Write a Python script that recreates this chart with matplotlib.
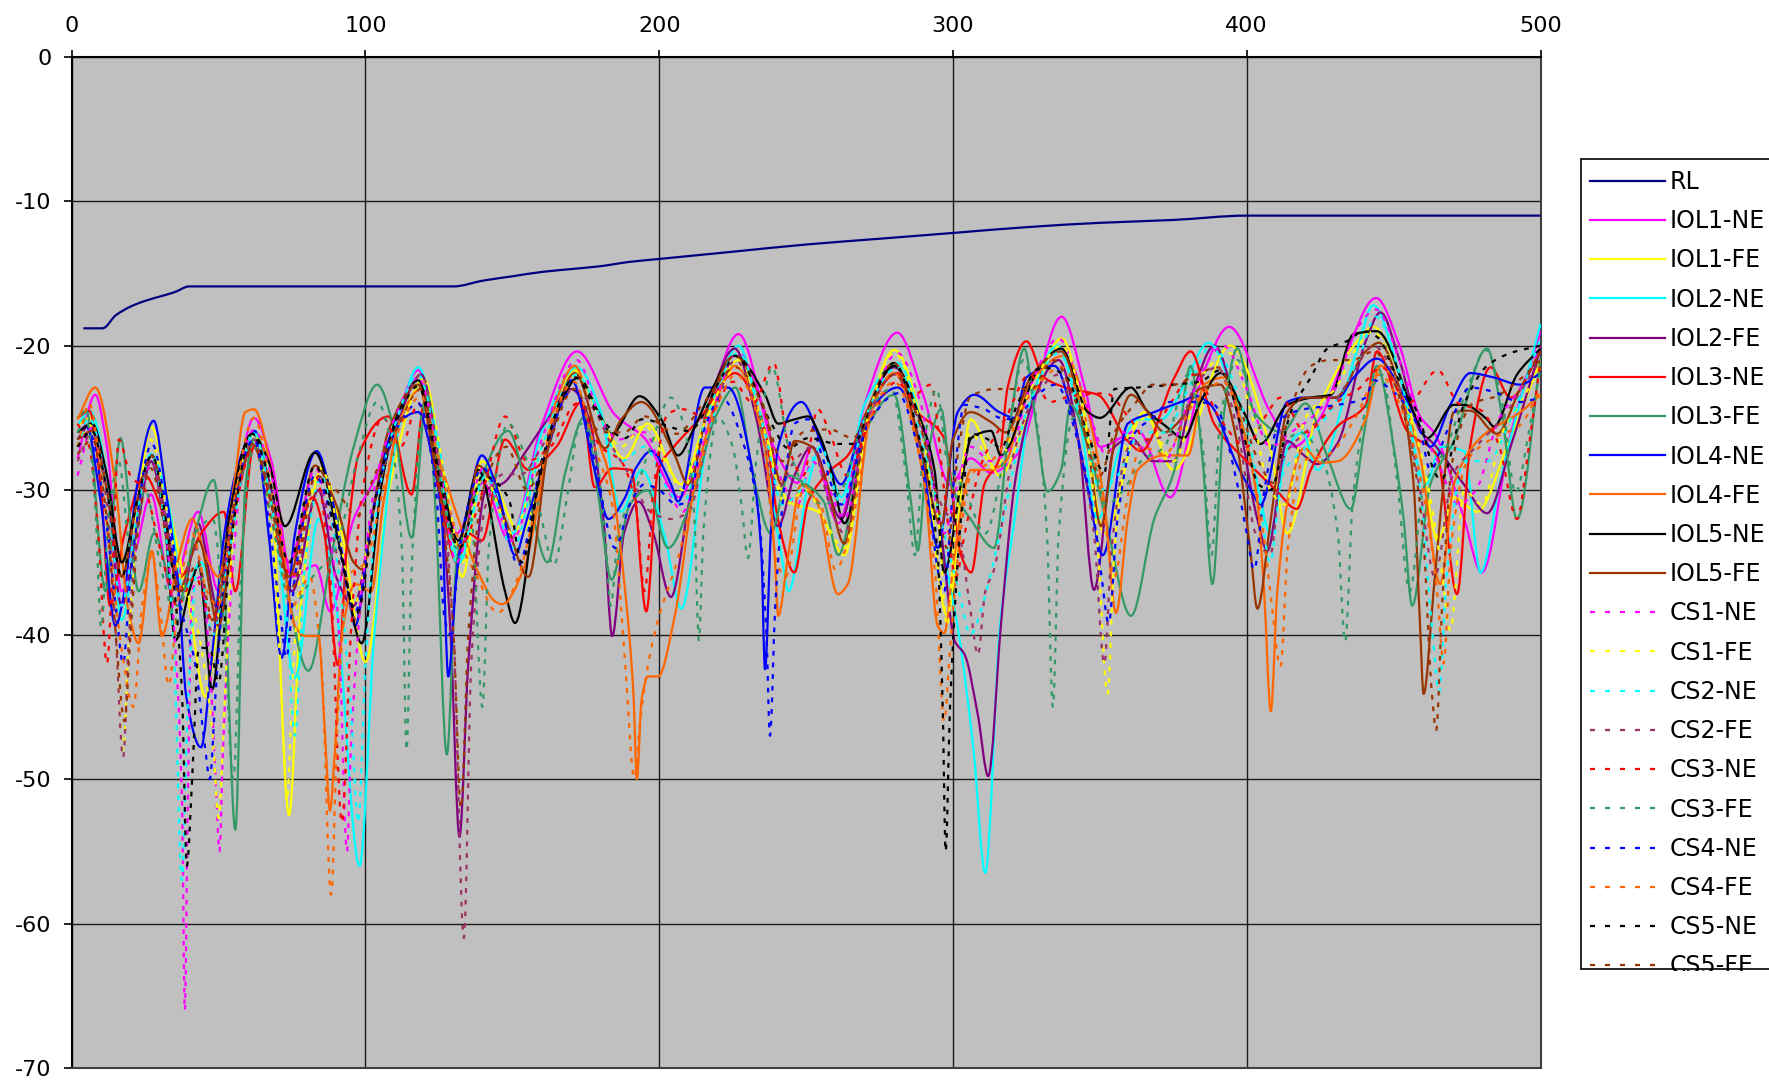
import numpy as np
import matplotlib
matplotlib.use("Agg")
import matplotlib.pyplot as plt
from matplotlib.path import Path
from matplotlib.patches import PathPatch, Rectangle
from matplotlib.lines import Line2D

plt.rcParams['font.family'] = ['DejaVu Sans']
plt.rcParams['lines.scale_dashes'] = False
plt.rcParams['axes.unicode_minus'] = False

# ---------------------------------------------------------------- data (x, dB)
RL = [(4, -18.8), (10.5, -18.8), (15, -17.9), (20, -17.3), (25, -16.9), (30, -16.6), (35, -16.3),
      (40, -15.9), (130, -15.9), (140, -15.5), (150, -15.2), (160, -14.9), (170, -14.7), (180, -14.5),
      (190, -14.2), (200, -14.0), (225, -13.5), (250, -13.0), (275, -12.6), (300, -12.2), (325, -11.8),
      (350, -11.5), (375, -11.3), (400, -11.0), (500, -11.0)]

IOL1_NE = [(2, -27.8), (8, -23.4), (12, -27), (17, -37), (22, -34), (27, -30.3), (34, -37), (43, -31.5),
           (50, -37), (56, -30), (62, -25), (68, -28), (75, -36), (83, -35.2), (88, -38.4), (96, -32),
           (103, -29.3), (110, -25.4), (118, -21.7), (124, -26), (131, -33), (140, -29.5), (149, -33.5),
           (160, -25.5), (172, -20.4), (185, -24.8), (195, -26.4), (207, -30.5), (216, -25), (227, -19.2),
           (239, -27), (247, -29.5), (252, -27), (261, -32.3), (270, -24), (281, -19.1), (290, -23.5),
           (299, -29.6), (306, -27.8), (313, -28.8), (322, -27.5), (337, -18), (345, -23), (350, -27),
           (363, -25.9), (374, -30.5), (385, -22), (394, -18.7), (408, -24.6), (416, -27), (425, -25),
           (433, -21), (444, -16.7), (452, -20), (459, -24.9), (464, -26.1), (474, -32), (480, -35.7),
           (490, -26), (500, -19)]

IOL1_FE = [(2, -25.5), (6, -25), (12, -29), (17, -39), (22, -32), (27, -25.6), (34, -32), (40, -38),
           (45.5, -44.3), (52, -35), (62, -26), (68, -30), (74, -52.5), (78, -38), (85, -28.5), (92, -33),
           (100, -41.9), (108, -30), (120, -22.3), (127, -30), (133, -36), (139.6, -28), (153, -33),
           (162, -27), (171, -21.7), (180, -25), (188, -27.8), (196, -25.4), (207.5, -29.6), (216, -25),
           (227, -21), (236, -26), (244, -30.8), (254, -31.5), (263, -34.5), (271, -25), (280, -20.3),
           (289, -25), (298, -38.7), (306, -25.1), (316, -29), (325, -25), (337, -19.5), (344, -24),
           (351.5, -33), (365, -24.6), (375, -28.6), (394.5, -20), (408, -27.1), (413.8, -33), (424, -24.6),
           (437.7, -19.7), (443, -18.7), (452, -22), (460, -28.6), (465, -33.5), (470.5, -30.5),
           (478.4, -31.5), (488.6, -27), (500, -21)]

IOL2_NE = [(2, -25.5), (6, -24.5), (12, -29), (17, -39), (22, -33), (27, -27.5), (33, -31), (38, -37),
           (44, -35), (50, -38), (56, -31), (62, -26), (68, -30), (76, -43), (84, -32), (90, -38), (98, -56),
           (103, -40), (110, -27), (118, -21.5), (125, -27), (132, -35), (141, -28.5), (150, -33), (160, -26),
           (172, -21.5), (180, -24.5), (187, -31.5), (194, -28.6), (202, -33.3), (207.5, -38.2), (216, -27),
           (227, -20), (234, -25), (241.6, -34.5), (244, -37), (250.7, -29.6), (255, -27), (262, -30.5),
           (270, -24), (281, -21.2), (290, -26), (297, -34.5), (302, -40), (307, -48), (311, -56.5),
           (316, -39.4), (321, -32), (326.6, -23.9), (335.6, -20), (343, -25), (349.3, -32), (357, -27),
           (363, -25.1), (371, -25.1), (378, -23), (387, -19.8), (395, -23), (403.6, -29.6), (408, -33),
           (413.8, -27.1), (419, -26), (424, -28.6), (437.7, -20.2), (443, -17.2), (452, -22), (461, -29.6),
           (466, -27), (474, -27.3), (479.6, -35.7), (486, -29.6), (500, -18.5)]

IOL2_FE = [(2, -26.5), (6, -25.5), (12, -30), (17, -38), (22, -33), (27, -28), (34, -35), (38, -37),
           (43, -32.3), (50, -38.4), (56, -31), (62, -26.5), (68, -30), (75, -37), (84, -30), (90, -36),
           (96, -38), (103, -31), (110, -26), (119, -22), (125, -29), (129, -40), (132, -54), (135, -42),
           (141, -30), (147, -29.5), (154, -27.5), (162, -25.1), (170, -23), (176, -25), (181, -32),
           (184, -40.1), (188, -33), (193, -30.8), (198, -33), (204, -37.4), (210, -31), (217, -24),
           (225.7, -20.2), (233, -25), (240.5, -32.5), (246, -29), (252, -27), (262, -32), (270, -25),
           (280, -21.5), (290, -26), (296, -33), (300.5, -40.4), (304, -41.4), (308.5, -45.6), (312, -49.8),
           (316.3, -39.4), (321, -29.6), (327, -24), (336, -21), (343, -27), (348, -36.9), (355, -27),
           (360.6, -26.4), (368, -28), (375, -28), (382, -23), (389, -20), (396, -24), (403.6, -32),
           (407, -34.2), (413.8, -26.6), (419.5, -27.6), (424, -28.2), (430.8, -26.8), (440.5, -19.7),
           (445.5, -17.7), (452, -21), (459, -25.9), (463.6, -26.8), (473.9, -29.6), (481.8, -31.6),
           (489.8, -27), (500, -20.2)]

IOL3_NE = [(2, -25), (6, -24.5), (10, -30), (13, -38), (18, -33), (25, -29), (30, -31), (37, -36), (44, -33),
           (51.8, -31.5), (55.7, -37), (62, -27), (68, -31), (74, -35), (82, -30.5), (86, -33), (90.6, -42.1),
           (94, -33), (97.6, -27.6), (107.8, -24.9), (115.7, -30.3), (120, -24), (126, -31), (131, -35),
           (135, -33), (139.6, -33.5), (147.5, -26.5), (155.5, -28.6), (165, -27), (173.6, -23.9),
           (178, -29.8), (184, -28.5), (190.5, -28.6), (195.6, -38.4), (199.6, -28.6), (205, -27), (214, -25),
           (225.7, -21.9), (236, -25.9), (240.4, -32), (246, -35.7), (250.7, -30.8), (258.5, -28.6),
           (264.2, -27.6), (272, -24), (281, -21.9), (287, -24.4), (297, -26.4), (302.7, -34.5),
           (306.2, -35.7), (310.7, -29.6), (315.8, -27.8), (318.6, -22.9), (325, -19.7), (331, -22.2),
           (340, -23), (349.3, -23.4), (359.5, -26.6), (364, -27.3), (375.4, -22.2), (380.9, -20.4),
           (388.9, -25.4), (400, -28), (410, -30), (417, -31.3), (421.8, -28.6), (430.8, -25.6),
           (440.5, -24.1), (444.3, -20.4), (454.6, -25.9), (464.8, -27.6), (471.6, -37.2), (476, -27),
           (483, -21.5), (489.8, -23.6), (500, -20.4)]

IOL3_FE = [(2, -25), (5, -24.5), (11.5, -37), (16.6, -26.4), (22.8, -37), (28, -33), (36, -38), (42, -33),
           (48.3, -29.3), (52, -37), (55.7, -53.5), (59, -30), (62, -26.5), (70, -33), (80.6, -42.5), (88, -35),
           (96, -27), (104, -22.7), (110, -26), (115.7, -33.3), (121, -23.2), (124, -32), (127.7, -48.3),
           (131, -35), (138, -30), (148.6, -25.9), (155, -30), (162, -35), (168, -28.8), (174.7, -24.9),
           (179, -30), (183.8, -36.2), (190, -31), (196, -30), (203, -34), (212, -30), (219, -25),
           (226, -22.9), (232, -29), (238, -33), (244, -29), (250, -29.6), (256, -30.8), (261, -34.5),
           (270, -26), (280, -23.4), (285.7, -30.8), (288, -34.2), (291, -28), (296, -24.4), (299.4, -29.6),
           (306, -32), (314, -34), (319, -26), (324.3, -20.2), (328, -25), (332.2, -30.1), (336.8, -28.6),
           (340, -24.1), (346, -27), (352, -32), (360.6, -38.7), (368.5, -32), (375.4, -28.6), (380.9, -21.4),
           (385, -28), (388.3, -36.5), (392.3, -24.6), (396.8, -20.2), (402.5, -24.6), (412, -26), (420, -24),
           (428, -28), (435.4, -31.3), (440, -26), (444.3, -21.4), (450, -27), (453.4, -32), (456.3, -38),
           (462.5, -29.6), (470.5, -26.6), (481.8, -20.2), (487, -25), (492, -32), (500, -20.9)]

IOL4_NE = [(2, -26), (5, -25.6), (10, -31), (14.9, -39.4), (18, -37), (22, -30), (27.9, -25.2), (32, -30),
           (36.4, -37), (39, -44.3), (44, -47.8), (47.8, -41.4), (52, -33), (57, -28), (62.4, -25.9), (67, -33),
           (71.5, -41.6), (76, -33), (83.4, -27.3), (88, -30), (94.2, -37), (96.5, -39.4), (102, -32),
           (110, -25.6), (118, -24.6), (123, -28), (126, -32), (128.2, -42.9), (131, -36), (135, -31),
           (139.6, -27.6), (145, -30), (150.9, -34.5), (155, -32), (162.3, -27), (170.2, -22.4), (178, -28.6),
           (182.7, -32), (188.4, -30.5), (192, -28.5), (197.3, -27.3), (204, -29.6), (206.4, -30.8),
           (215.5, -22.9), (223.4, -22.9), (232.5, -29.6), (234.8, -34.5), (236, -42.4), (238, -33),
           (240.5, -27), (248.4, -23.9), (256.2, -27.3), (261.9, -29.6), (270, -25), (281.2, -22.9),
           (289.1, -27.1), (292.5, -32), (294.8, -34), (301.6, -24.6), (307.3, -23.4), (315.8, -24.6),
           (321, -25), (325, -22.2), (334.5, -21.4), (341, -25), (346, -30), (351, -34.5), (359.5, -25.4),
           (368.5, -24.6), (377.6, -23.9), (383, -23.5), (387.7, -24.1), (396.8, -28.3), (401.4, -30),
           (404.7, -31), (413.8, -23.9), (419, -23.6), (431, -23.6), (436.4, -22.2), (444.3, -20.9),
           (453.4, -23.4), (459, -25.6), (462.5, -27), (469.3, -24.1), (476.1, -21.9), (484, -22.2),
           (493.1, -22.7), (500, -21.9)]

IOL4_FE = [(2, -25.1), (8, -22.9), (14.9, -29.6), (19, -38), (22.8, -40.6), (27.3, -34.2), (30.7, -40.1),
           (36, -35), (41, -32), (45.5, -34.5), (50, -36), (55, -30), (59.1, -24.6), (62, -24.4), (69.2, -30),
           (76, -39.4), (79.4, -40.1), (84, -40.1), (86.2, -46.8), (87.9, -52.2), (89.6, -48), (92, -40),
           (96.5, -36.5), (102, -37), (106, -31), (112, -25), (119, -23), (124, -27), (131.6, -32),
           (138.4, -35.7), (144.1, -37.7), (146.4, -37.9), (154.3, -35.2), (158.9, -30.8), (164.5, -24.1),
           (171.3, -21.4), (178.1, -25.9), (183.8, -29.6), (188.4, -37), (191.2, -44), (192.4, -50),
           (194, -44.5), (196.2, -42.9), (199.6, -42.9), (205.3, -38.7), (212.1, -29.6), (221.2, -22.9),
           (225.7, -21.4), (236, -27), (239.3, -34.5), (240.5, -38.7), (243.9, -34.5), (248.4, -29.6),
           (254, -31), (260.8, -37.2), (264.2, -36.5), (272, -24.6), (280, -21.9), (290.3, -29.6),
           (294.8, -39.4), (297, -39.9), (300.5, -34.5), (306.2, -28.6), (313, -28.6), (318, -28),
           (325.4, -22.9), (337.9, -20.7), (345.9, -24.6), (351.5, -30.8), (355.5, -38.5), (359.5, -32),
           (362.9, -28.6), (372, -27.6), (380, -27.6), (385.5, -22.7), (392.3, -22.2), (399, -25.9),
           (403.6, -30.8), (405.9, -37), (408.2, -45.3), (410.4, -37), (415, -29.6), (419.5, -27.1),
           (425.2, -28.1), (431, -28), (440.5, -25.1), (445.5, -21.4), (454.6, -24.6), (459, -27.6),
           (465.9, -36.5), (470.5, -29.6), (479.5, -26.4), (493.1, -24.6), (500, -23.4)]

IOL5_NE = [(2, -26), (6.9, -25.4), (12, -29), (17.1, -35), (22, -31), (27.3, -27.6), (32, -33), (35.3, -40.4),
           (40, -37), (43.3, -35.2), (47.8, -43.8), (53.5, -32), (61.4, -26.1), (67, -28), (72.6, -32.5),
           (82.8, -27.4), (91.9, -34.5), (98.7, -40.6), (105.5, -29.6), (111.2, -24.6), (118, -22.4),
           (125, -28.3), (131.6, -33.5), (138.4, -28.6), (147.5, -37), (150.9, -39.2), (158.9, -29.6),
           (164.5, -25.1), (172.5, -22.2), (179.3, -24.6), (183.8, -26.1), (193.3, -23.5), (200.7, -25.1),
           (206.4, -27.6), (212.1, -25.6), (218, -23), (225.7, -20.7), (236, -23.4), (240.5, -25.4),
           (246.1, -25.1), (250.7, -24.9), (255, -26.4), (258.5, -28.6), (263, -32.3), (272, -24.1),
           (280, -21.4), (288, -24.6), (293.7, -28.6), (297, -35.7), (302.7, -29.6), (306.2, -26.4),
           (313, -25.9), (316.3, -27.6), (328.8, -21.7), (336.8, -20.2), (345.9, -24.6), (350, -25),
           (360.6, -22.9), (366, -24.5), (372, -25.5), (378.6, -26.4), (384, -24), (391.1, -21.9),
           (399, -24.6), (404.7, -26.8), (413.8, -24.1), (421.8, -23.6), (428.6, -23.4), (436.4, -19.2),
           (444.3, -19), (456.8, -24.6), (461.4, -26.4), (470.5, -24.1), (473.9, -24.1), (481.8, -25.1),
           (484.1, -25.6), (492, -22), (500, -20.2)]

IOL5_FE = [(2, -26.5), (6.9, -25.9), (12, -30), (17.1, -36), (22, -31), (27.3, -27.6), (32, -32), (36.4, -37),
           (43.3, -33.5), (50, -39.4), (56, -31), (61.4, -26.8), (67, -30), (74, -36), (82.8, -28.3), (90, -31),
           (96, -35), (99, -35.5), (103, -31), (107.8, -25.9), (118, -22.7), (123.7, -28.3), (129, -33),
           (133, -34), (138.4, -28.3), (147.5, -32), (155.5, -36), (162.3, -27), (171.3, -21.9),
           (181.5, -27.1), (187.1, -25.1), (193.9, -23.9), (205.3, -27.6), (209.8, -29.6), (217, -24),
           (225.7, -20.7), (236, -24.6), (241.6, -29.6), (246.1, -26.6), (252, -27), (257, -29.5),
           (263, -33.7), (271, -24.5), (280, -21.2), (289.1, -27.1), (296, -32.5), (300, -26.5), (306, -24.6),
           (313, -25.3), (318, -26), (327, -22), (336.8, -20.4), (345.9, -27), (350.4, -32.5), (355, -26.6),
           (360.6, -23.4), (366.3, -24.6), (372, -26), (378, -25), (384, -23), (391.1, -22.7), (396, -26),
           (401.4, -34.5), (403.6, -38.2), (408.2, -32), (413.8, -24.6), (420, -23.6), (430, -23.6),
           (440.5, -20.4), (445, -19.8), (452, -23), (456.8, -29.6), (459, -39.4), (460.2, -44.1),
           (463.6, -37), (467, -29.6), (470.5, -24.6), (476, -24.5), (485.2, -26.1), (493, -23), (500, -20.4)]

CS1_NE = [(2, -29), (7, -25.6), (12, -30), (17, -38), (22, -32), (27.3, -28.1), (32, -33), (35, -40),
          (37.6, -52), (38.5, -66), (39.5, -52), (41, -37), (44, -36), (47, -42), (49, -50), (50.3, -55),
          (51.5, -48), (53.5, -39.4), (59.1, -27.1), (62, -25.8), (68, -29), (74, -35), (83, -28.5), (88, -33),
          (91, -40), (93.7, -55), (95, -48), (98.7, -37), (103.3, -29.6), (110, -25), (118, -22.2), (125, -28),
          (131, -35), (140, -28.5), (150, -33.5), (160, -26.5), (172, -21), (180, -25), (186, -26.5),
          (195, -26), (203, -30), (208, -31.5), (216, -26), (227, -20.5), (235, -24), (241, -29), (247, -31),
          (252, -28), (258, -30), (263, -32), (270, -26), (281, -20.5), (289, -24), (297, -33), (301, -30),
          (306, -27), (313, -28), (320, -27), (326, -23), (336, -19.5), (342, -22), (347, -25), (352, -27.5),
          (358, -26), (364, -27), (372, -28), (380, -24), (392, -20), (400, -23), (408, -27), (415, -26),
          (422, -25), (430, -23), (437, -19), (444, -17.5), (452, -21), (460, -26), (465, -28), (472, -31),
          (478, -30), (486, -25), (493, -23), (500, -20)]

CS1_FE = [(2, -27), (6, -25.5), (12, -31), (15, -40), (17.5, -48), (19.5, -40), (23, -31), (27, -26.5),
          (32, -31), (37, -36), (41, -38), (45, -42), (48, -47), (50, -52.7), (52, -45), (55, -33), (62, -26),
          (67, -31), (71, -42), (73.2, -51.5), (75.5, -42), (79, -33), (85, -28.5), (91, -33), (96, -38),
          (103, -31), (110, -26), (120, -22.5), (127, -29), (133, -35), (140, -29), (150, -33), (160, -27),
          (172, -22), (180, -25), (187, -27), (195, -25.5), (202, -28), (208, -30), (216, -25), (227, -21.5),
          (236, -26), (243, -31), (250, -30), (256, -32), (263, -34), (271, -25), (280, -20.5), (289, -25.5),
          (295, -32), (298, -39.4), (301, -32), (306, -26), (314, -28.5), (324, -24), (337, -20), (344, -24),
          (349, -33), (352.6, -44.1), (355, -34), (360, -26), (366, -25), (375, -28), (385, -22),
          (394, -20.5), (402, -25), (408, -30), (413, -31), (420, -25), (430, -23), (438, -20), (443, -19),
          (452, -23), (460, -28), (466, -35), (469.3, -39.7), (474, -30), (480, -31), (487, -26), (493, -24),
          (500, -21.5)]

CS2_NE = [(2, -27), (6, -25), (12, -30), (17, -38), (22, -32), (27, -27.5), (32, -33), (35, -42),
          (37.5, -57), (39.5, -45), (43, -35), (48, -40), (53, -35), (62, -26), (68, -31), (73, -38), (76, -47),
          (79, -36), (85, -29), (91, -36), (95, -45), (97.5, -53), (100, -42), (104, -31), (110, -25.5),
          (118, -22), (125, -28), (131, -35), (141, -29), (150, -34), (160, -27), (172, -22), (180, -25),
          (187, -28), (195, -27), (203, -30), (208, -31), (216, -25), (227, -20.5), (236, -26), (242, -31),
          (248, -30), (255, -27), (262, -31), (270, -25), (281, -21.5), (290, -27), (297, -33), (302, -37),
          (306, -40), (310, -38), (316, -33), (326, -24), (336, -20.5), (344, -25), (350, -30), (356, -29),
          (364, -26), (372, -26), (380, -23), (388, -20), (398, -24), (404, -30), (408, -35), (412, -29),
          (420, -27), (430, -24), (438, -21), (444, -18), (452, -22), (459, -30), (463, -39.4), (465.5, -44),
          (468, -36), (474, -28), (482, -28), (490, -25), (500, -19.5)]

CS2_FE = [(2, -28), (7, -26), (12, -31), (15, -40), (17.5, -48.5), (19.5, -40), (23, -31), (27, -28),
          (32, -32), (37, -37), (42, -34), (48, -40), (53, -34), (62, -26.5), (68, -31), (74, -37), (84, -30),
          (91, -35), (97, -39), (103, -31), (110, -26), (119, -22), (125, -28), (130, -40), (133.5, -61),
          (136, -42), (141, -31), (147, -28.9), (153, -28.9), (160, -27), (171, -23), (178, -24.5), (184, -27),
          (190, -29), (197, -31.5), (204, -32), (210, -31.5), (217, -26), (226, -21), (234, -25), (240, -30),
          (246, -28), (252, -27), (258, -31), (263, -33), (271, -25), (280, -22), (288, -25), (296, -31),
          (302, -33), (306, -38.4), (308.5, -41.4), (311, -37), (314, -35.5), (320, -28), (328, -23.5),
          (336, -22), (343, -27), (348, -33), (351.5, -42), (354, -34), (360, -27), (368, -26.5), (376, -26),
          (383, -22.5), (390, -21.5), (397, -26), (403, -33), (408, -34.5), (412, -28), (420, -26),
          (428, -24.5), (436, -22), (443, -20), (452, -23), (459, -30), (464, -36), (470, -29), (478, -27),
          (487, -25), (500, -21)]

CS3_NE = [(2, -25.4), (6, -27), (9, -33), (12, -42), (14, -35), (16, -26.5), (20, -29), (25, -30), (30, -34),
          (36, -38), (42, -36), (48, -39), (53, -34), (62, -27), (68, -32), (75, -36), (83, -29), (88, -36),
          (92, -53), (95, -40), (99, -30), (106, -25), (112, -27), (118, -24), (125, -30), (132, -34),
          (140, -30), (147.5, -24.9), (155, -28), (163, -27), (172, -24), (180, -27), (187, -28), (192, -31),
          (195, -37), (198, -30), (203, -24.7), (208, -24.4), (216, -25), (225, -22.5), (232, -24),
          (239, -21.2), (244, -27), (249, -29), (254, -24.4), (258, -26), (264, -29), (272, -25),
          (281, -22.5), (286, -23.5), (292.5, -22.7), (297, -30), (301, -36), (304, -33), (310, -28),
          (318, -25), (326, -22), (333, -23.9), (340, -23.5), (352, -23.3), (360, -25), (366, -26.5),
          (374, -24), (382, -22), (391, -25.1), (400, -27), (406, -25), (411.5, -23.6), (420, -26), (430, -24),
          (438, -23), (446, -21.5), (455, -24), (465, -21.7), (472, -24), (480, -24.5), (486, -27), (492, -32),
          (496, -27), (500, -21)]

CS3_FE = [(2, -26), (5, -25), (8, -31), (10, -39.5), (12.5, -32), (16, -28), (20, -34), (25, -30), (30, -35),
          (36, -39), (42, -33), (48, -32), (52, -40), (55, -50), (58, -34), (62, -27), (68, -32), (75, -38),
          (82, -36), (90, -34), (97, -28), (104, -23.9), (109, -27), (112.4, -34), (114, -48), (115.6, -36),
          (120, -24), (126, -30), (131, -34), (136, -32), (139.8, -45), (142, -34), (148.6, -25.4), (155, -28),
          (160, -32), (164, -35.2), (169, -30), (173, -25.4), (178, -27), (181.6, -33), (183.5, -38),
          (186, -33), (192, -30), (197, -27), (204, -23.6), (209, -26), (212, -32), (213.5, -40.4),
          (215, -33), (220, -25), (225, -27), (228, -31), (230.2, -34.7), (233, -28), (238.5, -21.5),
          (244, -27), (250, -30), (256, -31), (262, -30), (270, -25), (279, -23), (284, -29), (287, -34.5),
          (290, -27), (294.5, -23), (298, -28), (304, -30), (311, -33), (318, -27), (324, -21), (329, -26),
          (332, -33), (334, -45), (336, -33), (341, -25), (347, -27), (352, -31), (358, -30), (364, -28),
          (372, -27), (380, -22), (385, -27), (388, -34.5), (391, -25), (397, -21), (403, -25), (410, -27),
          (418, -26), (426, -28), (431, -33), (433.5, -40.5), (436, -31), (441, -24), (446, -22), (451, -29),
          (455.5, -37), (460, -30), (468, -27), (475, -23), (481.5, -20.3), (487, -24), (491.5, -30.2),
          (496, -26), (500, -21.5)]

CS4_NE = [(2, -27), (6, -26), (11, -31), (15, -38), (17.5, -42), (20, -36), (27.3, -26.8), (32, -31), (37, -38),
          (42, -42), (45.5, -48), (47, -50), (49, -44), (53, -34), (62, -26.5), (67, -32), (71.5, -39.4),
          (73, -41.6), (76, -36), (82.8, -29), (90, -33), (96.5, -38.4), (103, -31), (110, -26), (118, -24),
          (124, -30), (127, -39), (129, -40), (132, -34), (140, -28.5), (146, -31), (152, -35.2), (160, -28),
          (171, -23), (178, -28), (185, -34), (190, -31), (195, -29.6), (200, -30), (206, -31), (210, -30.8),
          (215, -26), (221.2, -23.6), (229, -27), (234, -32), (236.5, -40), (237.7, -47), (239.5, -38),
          (243, -29), (246, -25.4), (250.7, -25.1), (256, -28), (262, -31), (271, -25.5), (281.2, -23.3),
          (288, -27), (292.5, -32), (295, -35.7), (297, -37), (300, -30), (303.9, -24.1), (310.7, -24.4),
          (316, -25), (320.9, -25.1), (328, -23.5), (335, -22.7), (343, -27), (348, -32), (350.4, -35.7),
          (353, -39.2), (356, -32), (362, -26), (368, -25), (374, -23.9), (383, -23.9), (388.9, -24.1),
          (396.8, -29.6), (400, -33), (402.5, -35.5), (406, -30), (411.5, -25.1), (419.5, -24.4),
          (430.8, -24.1), (440.5, -23.6), (443.2, -22.4), (450, -23.2), (459, -25.9), (462.5, -28.6),
          (468, -26), (476.1, -22.9), (484.1, -23.2), (493.1, -23.9), (500, -23.6)]

CS4_FE = [(2, -27), (6, -24), (10, -29), (14, -36), (17, -41), (21, -45), (24, -38), (27.3, -34.5), (30, -38),
          (33, -43.5), (36, -38), (41, -33), (46, -37), (50, -38), (55, -31), (62, -25), (68, -30), (75, -38),
          (81, -36), (85, -42), (88.3, -58), (90.5, -46), (94, -36), (100, -35), (106, -30), (112, -25.5),
          (119, -23.5), (125, -28), (131, -33), (138, -36), (145, -38.5), (152, -36), (158, -31), (164, -25),
          (171, -22.5), (178, -27), (184, -31), (188.4, -42), (191.5, -49.9), (193.5, -46), (196, -42.3),
          (200, -38.7), (206, -35), (212, -30), (220, -24), (226, -22), (235, -26), (240, -35), (243, -36),
          (249, -30), (255, -31), (260, -35.5), (265, -33), (272, -25), (280, -22.5), (289, -28), (294, -36),
          (297, -46), (299, -41), (302, -34), (306, -29), (313, -28), (320, -26), (326, -23.5), (337, -21.5),
          (345, -25), (351, -31), (355, -36), (359, -31), (364, -27), (372, -27.5), (382, -24), (392, -22.5),
          (400, -27), (405, -32), (408, -37), (411.5, -42.2), (414, -34), (419, -28), (428, -27.5), (437, -25),
          (445, -22), (454, -25), (459, -29), (464.8, -37), (467, -42), (469.5, -34), (475, -28),
          (483, -26.5), (493, -25.5), (500, -23)]

CS5_NE = [(2, -27), (6.9, -25.9), (12, -30), (17, -36), (22, -31), (27.3, -27.6), (32, -32), (35.5, -38),
          (37.6, -44.3), (39.2, -56), (41, -50), (43.3, -40.9), (47, -41), (50, -43.3), (54, -34),
          (61.4, -26.1), (67, -29), (74, -35), (82.8, -28.3), (90, -33), (97, -38.5), (104, -30), (111, -25),
          (118, -22.8), (125, -29), (132, -34), (140, -29), (148.6, -30.5), (153.2, -35), (160, -28),
          (171.3, -22.2), (180, -25), (188.4, -26.4), (194, -25.1), (210, -25.9), (221.2, -22.2),
          (225.7, -20.7), (238.2, -25.4), (243.9, -27.1), (250.7, -26.4), (261, -26.8), (266.4, -26.8),
          (272, -24), (280, -21.2), (288, -26), (294.8, -34.5), (296.5, -45), (297.5, -55), (299, -45),
          (302.7, -32), (306.2, -26.1), (313, -26.6), (316.3, -27.1), (322, -24), (330, -21.5), (337.9, -22),
          (345.9, -26.1), (351.5, -28.8), (355, -23), (363, -22.9), (375, -22.7), (384, -22.5), (391, -21.7),
          (400, -27), (404, -29.6), (408, -30), (415, -24.6), (421.8, -22.2), (427.5, -20.2), (434, -19.7),
          (440, -19), (445, -19.5), (450, -21.7), (459, -25.1), (463.6, -28.6), (466, -29.3), (473.9, -24.1),
          (481.8, -21.4), (490, -20.5), (500, -20)]

CS5_FE = [(2, -27.5), (7, -26.5), (12, -32), (15, -40), (18, -46), (20, -40), (23, -32), (27, -28.5), (32, -33),
          (37, -37), (43, -35), (48, -39), (53, -33), (62, -27), (68, -31), (75, -37), (83, -29), (90, -30),
          (97, -31.8), (103, -29), (110, -26), (119, -23), (125, -30), (130, -40), (132.5, -52), (135, -40),
          (140, -30), (148, -27), (155, -30), (162, -27), (171, -23), (180, -26), (188, -26), (195, -24.9),
          (206, -26.1), (215, -24), (226, -21.5), (235, -24), (242, -28), (249, -26), (258, -25.8),
          (266, -26.4), (272, -24), (280, -22), (288, -25), (294, -30), (298, -34), (302, -27), (306, -23.5),
          (315, -23), (326.6, -23), (334, -21), (342, -24), (350, -29), (355, -26), (362, -24), (368, -22.7),
          (375, -22.7), (383, -22), (390, -21.5), (397, -24), (404, -28), (409, -29.5), (414, -25),
          (421.8, -21.4), (428, -21), (436, -21), (443.2, -20.4), (450, -22.5), (456, -27), (460, -33),
          (463, -44), (464.5, -46.6), (466.5, -38), (470, -28), (477, -24), (485, -23.5), (492, -22.5),
          (500, -21)]

LABELS = ["RL", "IOL1-NE", "IOL1-FE", "IOL2-NE", "IOL2-FE", "IOL3-NE", "IOL3-FE", "IOL4-NE", "IOL4-FE",
          "IOL5-NE", "IOL5-FE", "CS1-NE", "CS1-FE", "CS2-NE", "CS2-FE", "CS3-NE", "CS3-FE", "CS4-NE",
          "CS4-FE", "CS5-NE", "CS5-FE"]
VALUES = [RL, IOL1_NE, IOL1_FE, IOL2_NE, IOL2_FE, IOL3_NE, IOL3_FE, IOL4_NE, IOL4_FE, IOL5_NE, IOL5_FE,
          CS1_NE, CS1_FE, CS2_NE, CS2_FE, CS3_NE, CS3_FE, CS4_NE, CS4_FE, CS5_NE, CS5_FE]

# ---------------------------------------------------------------- styles
PALETTE = ["#000080", "#FF00FF", "#FFFF00", "#00FFFF", "#800080", "#FF0000", "#339966", "#0000FF",
           "#FF6600", "#000000", "#993300",
           "#FF00FF", "#FFFF00", "#00FFFF", "#993366", "#FF0000", "#339966", "#0000FF", "#FF6600",
           "#000000", "#993300"]
DOTTED = [False] * 11 + [True] * 10
LW = 1.6
DOT_PLOT = (0, (3.4, 5.0))
DOT_LEGEND = (0, (3.6, 7.2))


def smooth_path(points):
    """Bezier path through the points with shape-preserving (monotone) tangents."""
    pts = np.asarray(points, dtype=float)
    x, y = pts[:, 0], pts[:, 1]
    h = np.diff(x)
    d = np.diff(y) / h
    m = np.zeros_like(y)
    m[0], m[-1] = d[0], d[-1]
    for k in range(1, len(x) - 1):
        if d[k - 1] * d[k] <= 0:
            m[k] = 0.0
        else:
            w1 = 2 * h[k] + h[k - 1]
            w2 = h[k] + 2 * h[k - 1]
            m[k] = (w1 + w2) / (w1 / d[k - 1] + w2 / d[k])
    verts = [(x[0], y[0])]
    codes = [Path.MOVETO]
    for k in range(len(x) - 1):
        verts += [(x[k] + h[k] / 3, y[k] + m[k] * h[k] / 3),
                  (x[k + 1] - h[k] / 3, y[k + 1] - m[k + 1] * h[k] / 3),
                  (x[k + 1], y[k + 1])]
        codes += [Path.CURVE4] * 3
    return Path(verts, codes)


# ---------------------------------------------------------------- figure
W, H = 1769, 1081
fig = plt.figure(figsize=(W / 100, H / 100), dpi=100, facecolor="white")
ax_left, ax_right, ax_top, ax_bottom = 71.7, 1540.5, 56.7, 1068.0
ax = fig.add_axes([ax_left / W, 1 - ax_bottom / H, (ax_right - ax_left) / W, (ax_bottom - ax_top) / H])
ax.set_facecolor("#C0C0C0")

for i, (pts, col, dotted) in enumerate(zip(VALUES, PALETTE, DOTTED)):
    patch = PathPatch(smooth_path(pts), facecolor="none", edgecolor=col, lw=LW,
                      linestyle=DOT_PLOT if dotted else "-", zorder=3 + i * 0.01,
                      capstyle="butt", joinstyle="round")
    ax.add_patch(patch)

ax.set_xlim(0, 500)
ax.set_ylim(-70, 0)
ax.set_xticks(np.arange(0, 501, 100))
ax.set_yticks(np.arange(-70, 1, 10))
ax.xaxis.tick_top()
ax.tick_params(axis="x", which="both", direction="out", length=5, width=1.2, pad=10,
               labelsize=16, colors="black", top=True, bottom=False)
ax.tick_params(axis="y", which="both", direction="out", length=5.5, width=1.2, pad=9,
               labelsize=16, colors="black", left=True, right=False)
ax.set_axisbelow(True)
ax.grid(True, color="#1a1a1a", lw=1.0)
for side in ["left", "top"]:
    ax.spines[side].set_color("black")
    ax.spines[side].set_linewidth(1.5)
for side in ["right", "bottom"]:
    ax.spines[side].set_color("#404040")
    ax.spines[side].set_linewidth(1.5)

# ---------------------------------------------------------------- legend
FS = 17
EM = FS * 100 / 72
handles = [Line2D([], [], color=c, lw=LW, linestyle=DOT_LEGEND if d else "-")
           for c, d in zip(PALETTE, DOTTED)]
leg_left, leg_top, leg_bottom = 1580.5, 159.3, 969.3
fig.add_artist(Rectangle((leg_left / W, 1 - leg_bottom / H), 0.3, (leg_bottom - leg_top) / H,
                         transform=fig.transFigure, facecolor="white", edgecolor="black",
                         lw=1.2, zorder=4))
fig.legend(handles, LABELS, loc="upper left",
           bbox_to_anchor=(leg_left / W, 1 - 160.0 / H), bbox_transform=fig.transFigure,
           frameon=False, fontsize=FS, handlelength=75 / EM, handletextpad=0.19,
           labelspacing=0.645, borderpad=0.42, borderaxespad=0)
# the legend box is shorter than its contents: hide whatever overflows below it
fig.add_artist(Rectangle(((leg_left - 6) / W, 0), 0.3, (H - leg_bottom - 1.2) / H,
                         transform=fig.transFigure, facecolor="white", edgecolor="none", zorder=6))

fig.savefig("out.png", dpi=100, facecolor="white")
